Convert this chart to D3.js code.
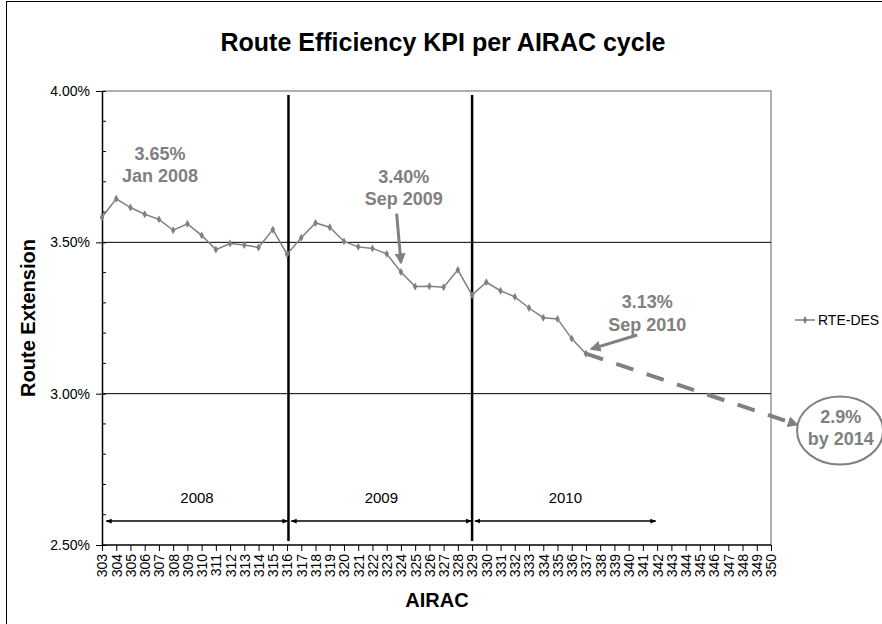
<!DOCTYPE html>
<html>
<head>
<meta charset="utf-8">
<script src="https://d3js.org/d3.v7.min.js"></script>
<style>
  body { margin: 0; background: #fff; }
  svg { display: block; font-family: "Liberation Sans", Arial, sans-serif; }
</style>
</head>
<body>
<svg id="chart" width="882" height="624"></svg>
<script>
// AIRAC cycles shown on the x axis
const cycles = [303, 304, 305, 306, 307, 308, 309, 310, 311, 312, 313, 314, 315, 316,
  317, 318, 319, 320, 321, 322, 323, 324, 325, 326, 327, 328, 329, 330, 331, 332,
  333, 334, 335, 336, 337, 338, 339, 340, 341, 342, 343, 344, 345, 346, 347, 348,
  349, 350];

// RTE-DES route extension (%), cycles 303..337
const rteCycles = [303, 304, 305, 306, 307, 308, 309, 310, 311, 312, 313, 314, 315,
  316, 317, 318, 319, 320, 321, 322, 323, 324, 325, 326, 327, 328, 329, 330, 331,
  332, 333, 334, 335, 336, 337];
const rteValues = [3.583, 3.644, 3.615, 3.593, 3.576, 3.540, 3.561, 3.523, 3.476,
  3.496, 3.491, 3.483, 3.542, 3.461, 3.515, 3.564, 3.550, 3.503, 3.485, 3.480,
  3.462, 3.402, 3.354, 3.355, 3.352, 3.409, 3.326, 3.368, 3.340, 3.320, 3.283,
  3.251, 3.247, 3.182, 3.132];

// Projection towards the 2014 target
const projCycles = [337, 351.8];
const projValues = [3.132, 2.898];

// y axis
const yTicks = [2.5, 3.0, 3.5, 4.0];
const yMinor = [2.6, 2.7, 2.8, 2.9, 3.1, 3.2, 3.3, 3.4, 3.6, 3.7, 3.8, 3.9];

// Year spans (cycle from, cycle to)
const years = ['2008', '2009', '2010'];
const yearFrom = [303.3, 316.3, 329.2];
const yearTo = [316.05, 328.95, 341.9];
const yearDividers = [316.1, 329];

// Callout texts
const calloutText = [['3.65%', 'Jan 2008'], ['3.40%', 'Sep 2009'], ['3.13%', 'Sep 2010']];
const targetText = ['2.9%', 'by 2014'];

const grey = '#808080';
const svg = d3.select('#chart');

// Scales
const x = d3.scaleLinear().domain([303, 350]).range([102, 771]);
const y = d3.scaleLinear().domain([2.5, 4.0]).range([545, 91]);

// Outer chart border (runs off the right and bottom edges)
svg.append('rect')
  .attr('x', 6.5).attr('y', 1.5).attr('width', 900).attr('height', 700)
  .attr('fill', 'none').attr('stroke', '#000').attr('stroke-width', 1);

// Title
svg.append('text')
  .attr('x', 443).attr('y', 51)
  .attr('text-anchor', 'middle')
  .attr('font-size', 25).attr('font-weight', 'bold')
  .text('Route Efficiency KPI per AIRAC cycle');

// Plot area border (top and right, grey)
svg.append('path')
  .attr('d', `M${x(303)},${y(4)}H${x(350)}V${y(2.5)}`)
  .attr('fill', 'none').attr('stroke', '#969696').attr('stroke-width', 1.5);

// Gridlines
svg.selectAll('.grid')
  .data([3.0, 3.5])
  .join('line')
  .attr('class', 'grid')
  .attr('x1', x(303)).attr('x2', x(350))
  .attr('y1', d => y(d)).attr('y2', d => y(d))
  .attr('stroke', '#000').attr('stroke-width', 1);

// Y axis
const yAxis = svg.append('g')
  .attr('transform', `translate(${x(303)},0)`)
  .call(d3.axisLeft(y).tickValues(yTicks).tickSize(0)
    .tickFormat(d => d3.format('.2f')(d) + '%').tickPadding(12));
yAxis.select('.domain').attr('stroke', '#000').attr('stroke-width', 1.5);
yAxis.selectAll('text').attr('font-size', 14).attr('fill', '#000')
  .attr('font-family', '"Liberation Sans", Arial, sans-serif');
yAxis.selectAll('.tick').append('line')
  .attr('x1', -6).attr('x2', 4).attr('stroke', '#000');
svg.append('g').selectAll('line')
  .data(yMinor)
  .join('line')
  .attr('x1', x(303)).attr('x2', x(303) + 4)
  .attr('y1', d => y(d)).attr('y2', d => y(d))
  .attr('stroke', '#000');

// X axis
const xAxis = svg.append('g')
  .attr('transform', `translate(0,${y(2.5)})`)
  .call(d3.axisBottom(x).tickValues(cycles).tickFormat(d3.format('d'))
    .tickSize(6).tickPadding(3));
xAxis.select('.domain').attr('stroke', '#000').attr('stroke-width', 1.5).attr('d', `M${x(303)},0H${x(350)}`);
xAxis.selectAll('line').attr('stroke', '#000');
xAxis.selectAll('text')
  .attr('font-size', 14).attr('fill', '#000')
  .attr('font-family', '"Liberation Sans", Arial, sans-serif')
  .attr('transform', 'rotate(-90)')
  .attr('text-anchor', 'end')
  .attr('y', 0).attr('x', -9)
  .attr('dy', '0.35em');

// Axis titles
svg.append('text')
  .attr('x', 437).attr('y', 607)
  .attr('text-anchor', 'middle')
  .attr('font-size', 20).attr('font-weight', 'bold')
  .text('AIRAC');
svg.append('text')
  .attr('transform', `translate(35,${(y(2.5) + y(4)) / 2}) rotate(-90)`)
  .attr('text-anchor', 'middle')
  .attr('font-size', 20).attr('font-weight', 'bold')
  .text('Route Extension');

// Year dividers
svg.selectAll('.divider')
  .data(yearDividers)
  .join('line')
  .attr('class', 'divider')
  .attr('x1', d => x(d)).attr('x2', d => x(d))
  .attr('y1', y(4) + 4).attr('y2', y(2.5) - 4)
  .attr('stroke', '#000').attr('stroke-width', 2.5);

// Arrow markers
const defs = svg.append('defs');
defs.append('marker')
  .attr('id', 'blackArrow')
  .attr('viewBox', '0 0 10 10').attr('refX', 9).attr('refY', 5)
  .attr('markerWidth', 6).attr('markerHeight', 6)
  .attr('markerUnits', 'userSpaceOnUse')
  .attr('orient', 'auto-start-reverse')
  .append('path').attr('d', 'M0,1L10,5L0,9Z').attr('fill', '#000');
defs.append('marker')
  .attr('id', 'greyArrow')
  .attr('viewBox', '0 0 10 10').attr('refX', 8).attr('refY', 5)
  .attr('markerWidth', 11).attr('markerHeight', 11)
  .attr('markerUnits', 'userSpaceOnUse')
  .attr('orient', 'auto')
  .append('path').attr('d', 'M0,0L10,5L0,10Z').attr('fill', grey);

// Year span arrows
const yearG = svg.append('g');
years.forEach((yr, i) => {
  yearG.append('line')
    .attr('x1', x(yearFrom[i])).attr('x2', x(yearTo[i]))
    .attr('y1', y(2.579)).attr('y2', y(2.579))
    .attr('stroke', '#000').attr('stroke-width', 1.5)
    .attr('marker-start', 'url(#blackArrow)')
    .attr('marker-end', 'url(#blackArrow)');
  yearG.append('text')
    .attr('x', x((yearFrom[i] + yearTo[i]) / 2)).attr('y', y(2.64))
    .attr('text-anchor', 'middle')
    .attr('font-size', 15)
    .text(yr);
});

// Projection (dashed)
const line = d3.line().x(d => x(d[0])).y(d => y(d[1]));
svg.append('path')
  .datum(d3.zip(projCycles, projValues))
  .attr('d', line)
  .attr('fill', 'none')
  .attr('stroke', grey).attr('stroke-width', 4)
  .attr('stroke-dasharray', '18,14')
  .attr('marker-end', 'url(#greyArrow)');

// Series line + markers
const rte = d3.zip(rteCycles, rteValues);
svg.append('path')
  .datum(rte)
  .attr('d', line)
  .attr('fill', 'none')
  .attr('stroke', grey).attr('stroke-width', 1.5);
const diamond = d3.symbol().type(d3.symbolDiamond).size(18);
svg.append('g').selectAll('path')
  .data(rte)
  .join('path')
  .attr('d', diamond)
  .attr('transform', d => `translate(${x(d[0])},${y(d[1])})`)
  .attr('fill', grey);

// Callouts
const calloutPos = [[307.07, 3.773], [324.2, 3.697], [341.3, 3.283]];
calloutText.forEach((lines, i) => {
  const t = svg.append('text')
    .attr('text-anchor', 'middle')
    .attr('font-size', 18).attr('font-weight', 'bold')
    .attr('fill', grey);
  lines.forEach((s, j) => {
    t.append('tspan')
      .attr('x', x(calloutPos[i][0]))
      .attr('y', y(calloutPos[i][1]) + j * 22.5)
      .text(s);
  });
});

// Callout arrows
const calloutArrows = [[[323.7, 3.595], [324.0, 3.434]], [[340.6, 3.194], [337.4, 3.148]]];
calloutArrows.forEach(a => {
  svg.append('path')
    .datum(a)
    .attr('d', line)
    .attr('stroke', grey).attr('stroke-width', 3)
    .attr('marker-end', 'url(#greyArrow)');
});

// 2014 target ellipse
svg.append('ellipse')
  .attr('cx', x(354.85)).attr('cy', y(2.878))
  .attr('rx', 43).attr('ry', 34)
  .attr('fill', 'none').attr('stroke', grey).attr('stroke-width', 2);
const tt = svg.append('text')
  .attr('text-anchor', 'middle')
  .attr('font-size', 18).attr('font-weight', 'bold')
  .attr('fill', grey);
targetText.forEach((s, j) => {
  tt.append('tspan')
    .attr('x', x(354.9))
    .attr('y', y(2.878) - 8 + j * 22)
    .text(s);
});

// Legend
const leg = svg.append('g').attr('transform', 'translate(795,320)');
leg.append('line').attr('x1', 0).attr('x2', 20)
  .attr('stroke', grey).attr('stroke-width', 1.5);
leg.append('path').attr('d', diamond).attr('transform', 'translate(10,0)').attr('fill', grey);
leg.append('text').attr('x', 23).attr('y', 5)
  .attr('font-size', 14)
  .text('RTE-DES');
</script>
</body>
</html>
